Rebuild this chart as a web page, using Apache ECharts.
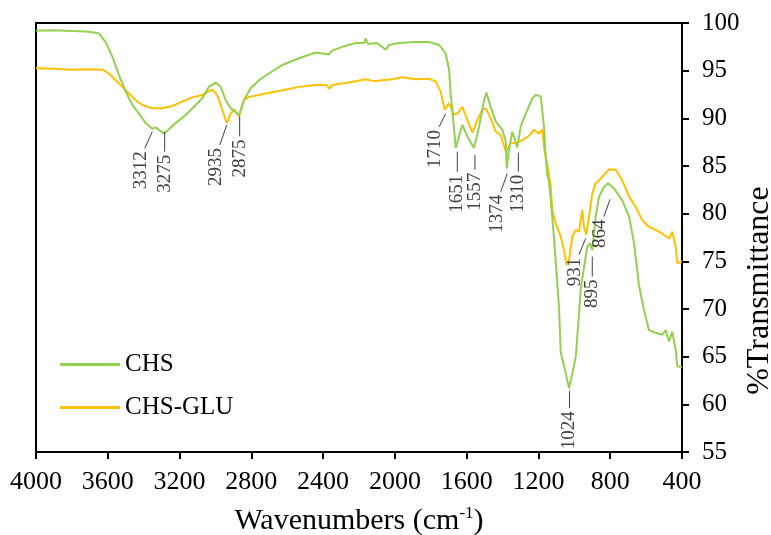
<!DOCTYPE html>
<html>
<head>
<meta charset="utf-8">
<script src="https://cdn.jsdelivr.net/npm/echarts@6/dist/echarts.min.js"></script>
<style>
  html, body { margin: 0; padding: 0; background: #fff; }
  #chart { width: 771px; height: 535px; }
</style>
</head>
<body>
<div id="chart"></div>
<script>
// wavenumber (cm-1), %T
const chsData = [
  [4000, 99.2], [3900, 99.25], [3800, 99.15], [3720, 99.1], [3680, 99.0], [3649, 98.9],
  [3612, 98.0], [3575, 96.5], [3537, 94.5], [3500, 92.8], [3463, 91.4], [3426, 90.5],
  [3389, 89.5], [3352, 88.9], [3333, 89.05], [3287, 88.4], [3259, 88.85], [3222, 89.5],
  [3166, 90.35], [3110, 91.4], [3073, 92.1], [3036, 93.3], [2999, 93.75], [2971, 93.3],
  [2943, 91.9], [2915, 91.05], [2896, 90.8], [2869, 90.35], [2841, 91.9], [2804, 93.15],
  [2757, 94.0], [2702, 94.7], [2627, 95.6], [2534, 96.3], [2441, 96.9], [2367, 96.7],
  [2350, 97.1], [2293, 97.5], [2218, 97.9], [2170, 97.9], [2163, 98.4], [2150, 97.8],
  [2100, 97.9], [2051, 97.2], [2033, 97.7], [1977, 97.9], [1884, 98.0], [1810, 98.0],
  [1754, 97.7], [1717, 96.8], [1698, 95.1], [1689, 92.5], [1680, 90.9], [1661, 86.9],
  [1643, 88.1], [1624, 89.3], [1596, 88.1], [1559, 86.9], [1531, 89.1], [1503, 91.9],
  [1490, 92.7], [1466, 91.2], [1438, 89.65], [1401, 88.8], [1382, 87.55], [1377, 84.75],
  [1364, 86.7], [1346, 88.6], [1331, 87.7], [1318, 86.95], [1299, 89.1], [1271, 90.5],
  [1234, 92.1], [1215, 92.45], [1187, 92.3], [1169, 89.1], [1160, 86.0], [1150, 84.0],
  [1141, 83.4], [1123, 79.7], [1104, 75.1], [1085, 70.0], [1076, 65.5], [1048, 63.25],
  [1030, 61.7], [1011, 63.25], [992, 65.0], [978, 68.5], [965, 72.0], [946, 74.4],
  [928, 76.5], [914, 76.9], [900, 76.2], [881, 79.7], [862, 81.8], [835, 82.8],
  [812, 83.2], [779, 82.65], [733, 81.4], [695, 79.7], [667, 76.9], [640, 72.5],
  [612, 69.9], [584, 67.8], [547, 67.5], [510, 67.3], [491, 67.8], [472, 66.6],
  [454, 67.6], [435, 65.7], [426, 64.0], [400, 63.9]
]

const chsGluData = [
  [4000, 95.25], [3900, 95.2], [3800, 95.1], [3700, 95.15], [3630, 95.1], [3593, 94.7],
  [3556, 94.0], [3519, 93.3], [3482, 92.6], [3444, 91.9], [3407, 91.4], [3352, 91.05],
  [3296, 91.05], [3240, 91.3], [3185, 91.75], [3129, 92.2], [3073, 92.45], [3017, 93.0],
  [2990, 92.45], [2962, 90.9], [2937, 89.5], [2915, 90.5], [2897, 90.95], [2869, 90.2],
  [2841, 91.9], [2813, 92.25], [2757, 92.45], [2720, 92.6], [2627, 92.95], [2534, 93.3],
  [2441, 93.5], [2380, 93.5], [2367, 93.1], [2348, 93.5], [2256, 93.75], [2163, 94.1],
  [2120, 93.9], [2070, 94.0], [2014, 94.1], [1959, 94.3], [1884, 94.1], [1810, 94.15],
  [1772, 93.85], [1745, 92.8], [1722, 90.9], [1698, 91.6], [1671, 90.4], [1652, 90.5],
  [1624, 91.2], [1596, 89.8], [1568, 88.5], [1541, 89.8], [1513, 90.9], [1494, 91.05],
  [1466, 90.0], [1438, 88.6], [1410, 88.25], [1382, 86.5], [1355, 87.4], [1327, 87.4],
  [1290, 87.7], [1253, 88.15], [1225, 88.8], [1197, 88.4], [1178, 88.8], [1169, 87.0],
  [1150, 85.0], [1132, 83.0], [1123, 80.4], [1104, 79.0], [1076, 77.6], [1058, 76.2],
  [1043, 74.6], [1030, 75.1], [1011, 77.6], [992, 78.3], [974, 78.1], [956, 80.4],
  [946, 78.6], [933, 77.8], [918, 79.7], [900, 82.1], [881, 83.2], [862, 83.5],
  [835, 84.05], [807, 84.65], [770, 84.6], [733, 83.5], [695, 81.8], [658, 80.7],
  [621, 79.3], [584, 78.6], [547, 78.3], [510, 77.9], [472, 77.4], [454, 78.1],
  [435, 76.5], [426, 74.8], [400, 75.0]
]

// peak labels and their leader lines: [tipWn, tipT, endWn, endT]
const peakLabels = ['3312', '3275', '2935', '2875', '1710', '1651', '1557', '1374', '1310', '931', '895', '864', '1024']
const peakLeaders = [
  [3352, 88.6, 3394, 86.85],
  [3283, 88.6, 3283, 86.5],
  [2937, 89.3, 2976, 87.2],
  [2865, 90.2, 2865, 88.1],
  [1717, 90.5, 1754, 89.1],
  [1652, 86.5, 1652, 84.4],
  [1554, 86.15, 1554, 84.6],
  [1374, 84.2, 1410, 82.3],
  [1312, 86.4, 1312, 84.4],
  [937, 77.4, 974, 75.7],
  [900, 75.5, 900, 73.4],
  [801, 81.5, 835, 79.7],
  [1027, 61.4, 1027, 59.6]
]

const seriesNames = ['CHS', 'CHS-GLU']

const serif = '"Liberation Serif", "Times New Roman", serif'

const chart = echarts.init(document.getElementById('chart'))

const option = {
  backgroundColor: '#fff',
  animation: false,
  grid: {
    left: 36,
    right: 89,
    top: 23,
    bottom: 83,
    outerBoundsMode: 'none',
    show: true,
    borderColor: '#000',
    borderWidth: 2
  },
  legend: {
    data: seriesNames,
    orient: 'vertical',
    left: 55,
    top: 347,
    icon: 'rect',
    itemWidth: 60,
    itemHeight: 3,
    itemGap: 18,
    textStyle: { fontFamily: serif, fontSize: 25, color: '#000' }
  },
  xAxis: {
    type: 'value',
    inverse: true,
    min: 400,
    max: 4000,
    interval: 400,
    name: '{a|Wavenumbers (cm}{s|-1}{a|)}',
    nameLocation: 'middle',
    nameGap: 53,
    nameMoveOverlap: false,
    nameTextStyle: {
      rich: {
        a: { fontFamily: serif, fontSize: 30, color: '#000' },
        s: { fontFamily: serif, fontSize: 17, color: '#000', padding: [0, 0, 15, 0] }
      }
    },
    axisLine: { lineStyle: { color: '#000', width: 2 } },
    axisTick: { length: 7, lineStyle: { color: '#000', width: 2 } },
    axisLabel: {
      fontFamily: serif, fontSize: 26, color: '#000', margin: 17,
      formatter: function (v) { return String(v) }
    },
    splitLine: { show: false }
  },
  yAxis: {
    type: 'value',
    position: 'right',
    min: 55,
    max: 100,
    interval: 5,
    name: '%Transmittance',
    nameLocation: 'middle',
    nameRotate: 90,
    nameGap: 62,
    nameMoveOverlap: false,
    nameTextStyle: { fontFamily: serif, fontSize: 32, color: '#000', padding: [0, 106, 0, 0] },
    axisLine: { show: true, lineStyle: { color: '#000', width: 2 } },
    axisTick: { show: true, length: 7, lineStyle: { color: '#000', width: 2 } },
    axisLabel: { fontFamily: serif, fontSize: 25, color: '#000', margin: 20 },
    splitLine: { show: false }
  },
  series: [
    {
      name: 'CHS',
      type: 'line',
      data: chsData,
      symbol: 'none',
      color: '#92D050',
      lineStyle: { width: 2, color: '#92D050' },
      z: 3
    },
    {
      name: 'CHS-GLU',
      type: 'line',
      data: chsGluData,
      symbol: 'none',
      color: '#FFC000',
      lineStyle: { width: 2, color: '#FFC000' },
      z: 2
    },
    {
      // peak annotations
      type: 'custom',
      data: peakLeaders,
      encode: { x: [0, 2], y: [1, 3] },
      z: 5,
      silent: true,
      renderItem: function (params, api) {
        const tip = api.coord([api.value(0), api.value(1)])
        const end = api.coord([api.value(2), api.value(3)])
        const shift = Math.abs(tip[0] - end[0]) > 1 ? -4 : 0
        return {
          type: 'group',
          children: [
            {
              type: 'line',
              shape: { x1: tip[0], y1: tip[1], x2: end[0], y2: end[1] },
              style: { stroke: '#404040', lineWidth: 1 }
            },
            {
              type: 'text',
              x: end[0] + shift,
              y: end[1] + 3,
              rotation: Math.PI / 2,
              style: {
                text: peakLabels[params.dataIndex],
                font: '19px ' + serif,
                fill: '#404040',
                align: 'right',
                verticalAlign: 'middle'
              }
            }
          ]
        }
      }
    }
  ]
}

option && chart.setOption(option)
</script>
</body>
</html>
